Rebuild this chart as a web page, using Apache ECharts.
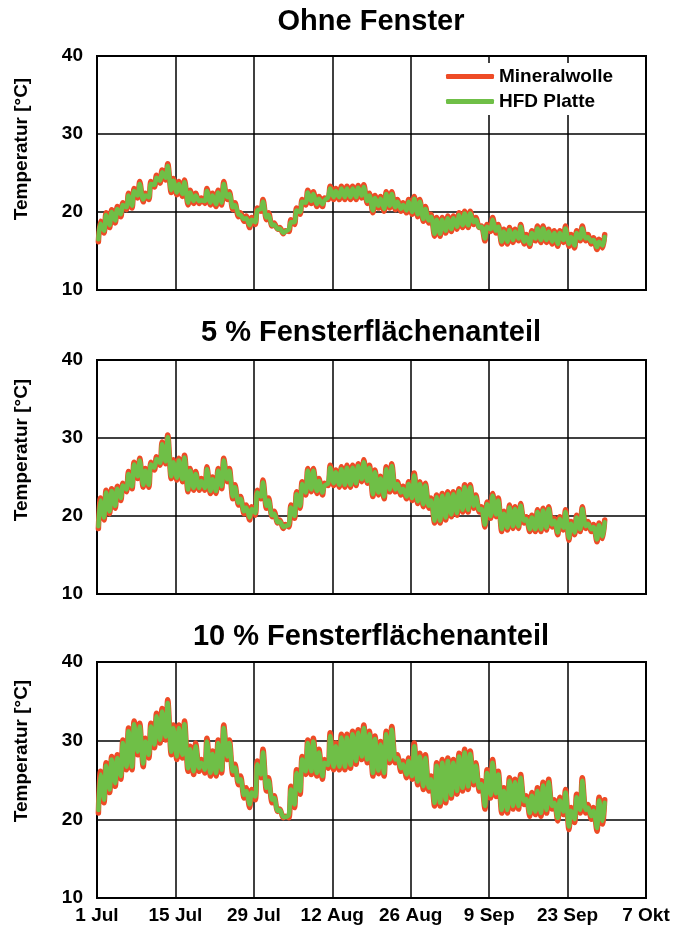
<!DOCTYPE html>
<html><head><meta charset="utf-8">
<script src="https://cdn.jsdelivr.net/npm/echarts@6/dist/echarts.min.js"></script>
<style>html,body{margin:0;padding:0;background:#fff}#c{width:674px;height:930px}</style>
</head><body><div id="c"></div><script>
const panelTitles = ['Ohne Fenster', '5 % Fensterflächenanteil', '10 % Fensterflächenanteil'];
const tickLabels = ['1 Jul', '15 Jul', '29 Jul', '12 Aug', '26 Aug', '9 Sep', '23 Sep', '7 Okt'];
const seriesNames = ['Mineralwolle', 'HFD Platte'];
const yAxisName = 'Temperatur [°C]';

// Panel 1 – Ohne Fenster (daily max / min, °C)
const p1MwMax = [18.8,19.9,20.3,20.7,21.2,22.4,23.0,23.9,22.4,23.9,
24.7,25.4,26.2,24.3,23.9,24.1,22.8,22.4,21.8,23.0,
22.4,22.8,23.9,22.6,21.2,19.9,19.5,19.3,20.5,21.6,
19.9,18.6,18.0,17.6,19.0,20.5,21.6,22.8,22.6,22.0,
21.8,23.3,23.0,23.3,23.3,23.3,23.4,23.5,22.4,22.1,
22.0,22.6,22.6,21.6,21.2,21.6,22.0,21.6,20.7,19.7,
19.3,19.3,19.5,19.5,19.9,20.1,20.1,19.3,18.2,18.4,
19.3,18.4,17.8,18.0,17.8,18.4,17.1,17.6,18.2,18.2,
17.8,17.6,17.6,18.2,17.1,17.6,18.2,17.1,16.7,16.5,
17.1];
const p1MwMin = [16.2,17.3,18.0,18.6,19.4,20.3,20.5,21.8,21.3,21.6,
23.2,23.7,24.1,22.5,22.2,22.0,20.9,21.1,21.1,21.1,
20.9,20.7,20.9,21.6,20.3,19.4,18.8,18.0,18.4,20.1,
19.0,18.2,17.8,17.2,17.5,18.4,19.7,20.9,21.1,20.7,
20.7,21.6,21.6,21.6,21.6,21.6,21.6,21.8,21.1,19.9,
20.5,20.1,20.5,20.3,20.1,19.9,19.7,19.4,18.8,18.6,
16.9,16.9,17.3,17.5,17.8,18.0,18.0,18.4,18.0,16.3,
17.5,17.3,15.9,15.9,16.1,16.3,15.9,15.6,16.3,16.1,
16.1,15.9,15.6,16.1,15.6,15.4,16.3,16.3,15.9,15.2,
15.4];
const p1HfdMax = [18.5,19.6,20.0,20.4,20.9,22.1,22.7,23.6,22.1,23.6,
24.4,25.1,25.9,24.0,23.6,23.8,22.5,22.1,21.5,22.7,
22.1,22.5,23.6,22.3,20.9,19.6,19.2,19.0,20.2,21.3,
19.6,18.4,17.9,17.5,18.7,20.2,21.3,22.5,22.3,21.7,
21.5,23.0,22.7,23.0,23.0,23.0,23.1,23.2,22.1,21.8,
21.7,22.3,22.3,21.3,20.9,21.3,21.7,21.3,20.4,19.4,
19.0,19.0,19.2,19.2,19.6,19.8,19.8,19.0,18.1,18.1,
19.0,18.1,17.5,17.7,17.5,18.1,16.8,17.3,17.9,17.9,
17.5,17.3,17.3,17.9,16.8,17.3,17.9,16.8,16.4,16.2,
16.8];
const p1HfdMin = [16.5,17.6,18.3,18.9,19.7,20.6,20.8,22.1,21.6,21.9,
23.5,24.0,24.4,22.8,22.5,22.3,21.2,21.4,21.4,21.4,
21.2,21.0,21.2,21.9,20.6,19.7,19.1,18.3,18.7,20.4,
19.3,18.3,17.8,17.3,17.8,18.7,20.0,21.2,21.4,21.0,
21.0,21.9,21.9,21.9,21.9,21.9,21.9,22.1,21.4,20.2,
20.8,20.4,20.8,20.6,20.4,20.2,20.0,19.7,19.1,18.9,
17.2,17.2,17.6,17.8,18.1,18.3,18.3,18.7,18.0,16.6,
17.8,17.6,16.2,16.2,16.4,16.6,16.2,15.9,16.6,16.4,
16.4,16.2,15.9,16.4,15.9,15.7,16.6,16.6,16.2,15.5,
15.7];

// Panel 2 – 5 % Fensterflächenanteil
const p2MwMax = [22.3,23.3,23.5,23.8,24.2,25.7,26.9,27.4,26.1,26.9,
27.6,29.5,30.4,27.2,27.4,27.8,26.1,25.7,24.8,26.3,
25.0,26.1,27.4,26.1,24.0,22.5,21.4,21.2,23.3,24.6,
22.3,20.6,19.5,18.9,21.4,23.1,24.4,26.1,26.1,24.8,
24.2,26.5,25.9,26.3,26.5,26.5,26.7,27.2,26.5,25.9,
25.1,26.3,26.7,24.4,23.8,24.4,25.5,24.4,24.2,22.3,
22.7,22.9,23.1,23.1,23.5,24.0,24.0,22.7,21.2,21.8,
22.9,22.3,20.6,21.4,21.2,21.6,19.9,20.1,20.8,21.0,
21.2,19.7,19.9,20.8,19.3,20.1,21.2,19.3,18.9,19.1,
19.5];
const p2MwMin = [18.4,19.5,20.3,21.0,22.0,23.1,23.5,24.8,23.7,23.7,
25.9,26.5,26.7,24.8,24.6,24.4,23.1,23.3,23.3,23.3,
22.9,22.9,23.5,24.4,22.2,21.4,20.3,19.5,20.1,22.2,
21.0,19.9,19.1,18.4,18.6,19.7,21.0,22.7,23.1,22.9,
22.7,23.9,23.9,23.7,23.7,23.7,23.9,24.4,24.2,22.5,
22.7,22.2,23.1,23.1,22.7,22.2,22.0,21.6,21.2,21.0,
19.1,19.1,19.5,19.9,20.1,20.5,20.5,21.0,20.5,18.6,
19.7,19.9,18.0,18.2,18.4,18.4,19.1,18.0,18.0,18.0,
18.2,18.6,17.6,18.2,16.9,17.6,18.0,18.4,18.0,16.7,
17.1];
const p2HfdMax = [22.0,23.0,23.2,23.5,23.9,25.4,26.6,27.1,25.8,26.6,
27.3,29.2,30.1,26.9,27.1,27.5,25.8,25.4,24.5,26.0,
24.7,25.8,27.1,25.8,23.7,22.2,21.1,20.9,23.0,24.3,
22.0,20.3,19.3,18.7,21.1,22.8,24.1,25.8,25.8,24.5,
23.9,26.2,25.6,26.0,26.2,26.2,26.4,26.9,26.2,25.6,
24.8,26.0,26.4,24.1,23.5,24.1,25.2,24.1,23.9,22.0,
22.4,22.6,22.8,22.8,23.2,23.7,23.7,22.4,20.9,21.5,
22.6,22.0,20.3,21.1,20.9,21.3,19.6,19.8,20.5,20.7,
20.9,19.4,19.6,20.5,19.0,19.8,20.9,19.0,18.6,18.8,
19.2];
const p2HfdMin = [18.7,19.8,20.6,21.3,22.3,23.4,23.8,25.1,24.0,24.0,
26.2,26.8,27.0,25.1,24.9,24.7,23.4,23.6,23.6,23.6,
23.2,23.2,23.8,24.7,22.5,21.7,20.6,19.8,20.4,22.5,
21.3,20.1,19.2,18.6,18.9,20.0,21.3,23.0,23.4,23.2,
23.0,24.2,24.2,24.0,24.0,24.0,24.2,24.7,24.5,22.8,
23.0,22.5,23.4,23.4,23.0,22.5,22.3,21.9,21.5,21.3,
19.4,19.4,19.8,20.2,20.4,20.8,20.8,21.3,20.8,18.9,
20.0,20.2,18.3,18.5,18.7,18.7,19.4,18.3,18.3,18.3,
18.5,18.9,17.9,18.5,17.2,17.9,18.3,18.7,18.3,17.0,
17.4];

// Panel 3 – 10 % Fensterflächenanteil
const p3MwMax = [26.1,27.2,28.0,28.2,30.1,31.6,32.5,32.2,30.3,32.2,
33.5,34.1,35.2,32.0,32.0,32.5,29.3,29.7,27.6,30.3,
28.7,30.1,32.0,30.1,27.0,25.5,24.0,23.8,27.4,28.9,
25.3,23.0,21.3,20.4,24.2,26.3,28.0,30.1,30.3,28.9,
27.6,31.0,29.7,30.8,30.8,31.2,31.4,32.0,31.2,30.6,
29.9,31.2,31.8,28.2,27.4,27.8,29.7,28.4,28.2,25.5,
27.2,27.6,27.8,27.6,28.4,28.9,28.7,27.2,24.9,26.3,
27.6,26.1,24.0,25.3,25.1,25.7,23.0,23.4,24.0,24.7,
25.1,22.5,22.8,23.8,21.5,23.2,25.3,21.9,21.5,22.8,
22.5];
const p3MwMin = [20.8,22.1,23.4,24.2,25.1,26.3,26.3,28.2,26.7,27.8,
29.1,29.7,30.1,28.2,27.6,27.8,26.1,25.7,26.1,25.9,
25.5,25.5,25.9,27.6,25.7,24.4,22.7,21.5,22.5,25.3,
23.6,22.1,21.0,20.2,20.2,21.5,23.2,25.7,25.7,25.5,
25.1,26.5,26.3,26.3,26.3,26.5,27.0,27.6,27.2,25.5,
25.8,25.5,27.2,27.2,26.1,25.3,25.1,24.4,23.8,23.6,
21.7,21.7,22.1,22.7,23.2,23.6,23.8,24.4,23.6,21.3,
22.7,22.9,20.8,20.8,21.3,21.3,21.9,20.4,20.6,20.4,
20.8,21.3,19.8,20.6,18.7,19.6,20.8,20.8,20.0,18.5,
19.4];
const p3HfdMax = [25.7,26.8,27.6,27.8,29.7,31.2,32.1,31.8,29.9,31.8,
33.1,33.7,34.8,31.6,31.6,32.1,28.9,29.3,27.2,29.9,
28.3,29.7,31.6,29.7,26.6,25.1,23.6,23.4,27.0,28.5,
24.9,22.7,21.2,20.3,23.8,25.9,27.6,29.7,29.9,28.5,
27.2,30.6,29.3,30.4,30.4,30.8,31.0,31.6,30.8,30.2,
29.5,30.8,31.4,27.8,27.0,27.4,29.3,28.0,27.8,25.1,
26.8,27.2,27.4,27.2,28.0,28.5,28.3,26.8,24.5,25.9,
27.2,25.7,23.6,24.9,24.7,25.3,22.6,23.0,23.6,24.3,
24.7,22.1,22.4,23.4,21.1,22.8,24.9,21.5,21.1,22.4,
22.1];
const p3HfdMin = [21.2,22.5,23.8,24.6,25.5,26.7,26.7,28.6,27.1,28.2,
29.5,30.1,30.5,28.6,28.0,28.2,26.5,26.1,26.5,26.3,
25.9,25.9,26.3,28.0,26.1,24.8,23.1,21.9,22.9,25.7,
24.0,22.5,21.1,20.3,20.6,21.9,23.6,26.1,26.1,25.9,
25.5,26.9,26.7,26.7,26.7,26.9,27.4,28.0,27.6,25.9,
26.2,25.9,27.6,27.6,26.5,25.7,25.5,24.8,24.2,24.0,
22.1,22.1,22.5,23.1,23.6,24.0,24.2,24.8,24.0,21.7,
23.1,23.3,21.2,21.2,21.7,21.7,22.3,20.8,21.0,20.8,
21.2,21.7,20.2,21.0,19.1,20.0,21.2,21.2,20.4,18.9,
19.8];

const panels = [
  {mwMax: p1MwMax, mwMin: p1MwMin, hfdMax: p1HfdMax, hfdMin: p1HfdMin},
  {mwMax: p2MwMax, mwMin: p2MwMin, hfdMax: p2HfdMax, hfdMin: p2HfdMin},
  {mwMax: p3MwMax, mwMin: p3MwMin, hfdMax: p3HfdMax, hfdMin: p3HfdMin}
];

// daily cycle: minimum in the early morning, maximum in the afternoon
function dailyCurve(mins, maxs) {
  const pts = [];
  for (let d = 0; d < mins.length; d++) {
    pts.push([d + 0.25, mins[d]]);
    pts.push([d + 0.625, maxs[d]]);
  }
  return pts;
}

const FONT = '"Liberation Sans", Arial, sans-serif';
const RED = '#EE4B26';
const GREEN = '#6FBF47';
const gridTops = [56, 360, 662];
const gridHeights = [234, 234, 236];
const nameCenters = [149, 450, 751];
const titleCenters = [22, 333, 637];

const option = {
  animation: false,
  backgroundColor: '#fff',
  title: panelTitles.map((t, i) => ({
    text: t, left: 371, top: titleCenters[i] - 15, textAlign: 'center', padding: 0,
    textStyle: {fontFamily: FONT, fontWeight: 'bold', fontSize: 29, lineHeight: 30, color: '#000'}
  })),
  legend: {
    data: [{name: seriesNames[0], icon: 'roundRect'}, {name: seriesNames[1], icon: 'roundRect'}],
    orient: 'vertical', left: 440, top: 63, itemWidth: 48, itemHeight: 5, itemGap: 6,
    padding: [4, 8, 4, 6], backgroundColor: '#fff',
    textStyle: {fontFamily: FONT, fontWeight: 'bold', fontSize: 19, color: '#000'}
  },
  graphic: nameCenters.map(y => ({
    type: 'text', x: 22, y: y, rotation: Math.PI / 2, z: 10,
    style: {text: yAxisName, fontFamily: FONT, fontWeight: 'bold', fontSize: 19, fill: '#000',
            align: 'center', verticalAlign: 'middle'}
  })),
  grid: gridTops.map((t, i) => ({left: 97, top: t, width: 549, height: gridHeights[i],
    show: true, borderColor: '#000', borderWidth: 2, backgroundColor: 'transparent'})),
  xAxis: gridTops.map((t, i) => ({
    type: 'value', gridIndex: i, min: 0, max: 98, interval: 14,
    axisLine: {show: true, lineStyle: {color: '#000', width: 2}},
    axisTick: {show: false},
    splitLine: {show: true, lineStyle: {color: '#000', width: 1.5}},
    axisLabel: {show: i === 2, margin: 8, fontFamily: FONT, fontWeight: 'bold', fontSize: 19, color: '#000',
      formatter: v => tickLabels[Math.round(v / 14)]}
  })),
  yAxis: gridTops.map((t, i) => ({
    type: 'value', gridIndex: i, min: 10, max: 40, interval: 10,
    axisLine: {show: true, lineStyle: {color: '#000', width: 2}},
    axisTick: {show: false},
    splitLine: {show: true, lineStyle: {color: '#000', width: 1.5}},
    axisLabel: {margin: 14, fontFamily: FONT, fontWeight: 'bold', fontSize: 19, color: '#000'}
  })),
  series: []
};

panels.forEach((p, i) => {
  option.series.push({
    name: seriesNames[0], type: 'line', xAxisIndex: i, yAxisIndex: i,
    data: dailyCurve(p.mwMin, p.mwMax), showSymbol: false, smooth: 0.3,
    color: RED, lineStyle: {color: RED, width: 5.5, cap: 'round', join: 'round'}, z: 2
  });
  option.series.push({
    name: seriesNames[1], type: 'line', xAxisIndex: i, yAxisIndex: i,
    data: dailyCurve(p.hfdMin, p.hfdMax), showSymbol: false, smooth: 0.3,
    color: GREEN, lineStyle: {color: GREEN, width: 4.5, cap: 'round', join: 'round'}, z: 3
  });
});

const chart = echarts.init(document.getElementById('c'), null, {renderer: 'canvas'});
chart.setOption(option);
</script></body></html>
